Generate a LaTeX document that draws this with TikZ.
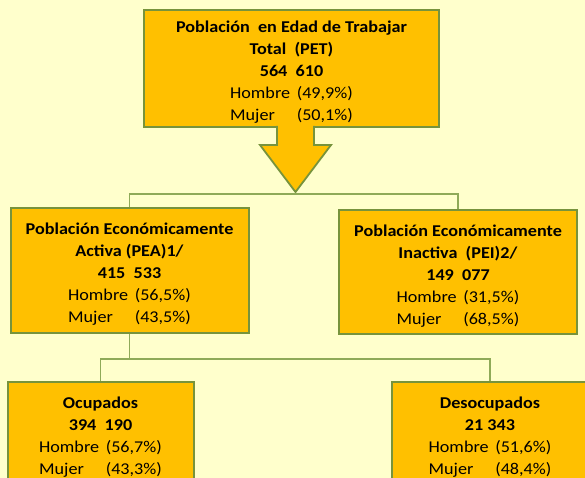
\documentclass[tikz,border=0pt]{standalone}
\usepackage{fontspec}
\setmainfont{Carlito}[FakeStretch=1.1]
\definecolor{bgcol}{HTML}{FFFFCC}
\definecolor{boxcol}{HTML}{FFC000}
\definecolor{bordercol}{HTML}{77933C}
\definecolor{linecol}{HTML}{8FAA58}
\newcommand\HM[2]{\makebox[4.04em][l]{Hombre}(#1\%)\\\makebox[4.04em][l]{Mujer}(#2\%)}
\newcommand\TS{\rule{0pt}{19pt}}
\tikzset{
  box/.style={draw=bordercol, line width=2pt, fill=boxcol, inner sep=0pt, align=center,
    font={\fontsize{16.5}{22}\selectfont}, text=black},
  conn/.style={draw=linecol, line width=1.2pt}
}
\begin{document}
\begin{tikzpicture}[x=1pt,y=-1pt]
\fill[bgcol] (0,0) rectangle (585,478);
\useasboundingbox (0,0) rectangle (585,478);
\begin{scope}
\clip (0,0) rectangle (585,478);
\node[box, minimum width=295pt, minimum height=117pt] (pet) at (291.5,68.5)
  {\TS\textbf{Población \ en Edad de Trabajar}\\\textbf{Total \ (PET)}\\\textbf{564 \ 610}\\\HM{49,9}{50,1}};
\fill[boxcol, draw=bordercol, line width=1.8pt]
  (277,126) -- (277,145) -- (260,145) -- (295.5,192) -- (331,145) -- (314,145) -- (314,126);
\coordinate (bus1) at (0,194);
\coordinate (bus2) at (0,359);
\node[box, minimum width=238pt, minimum height=125pt] (pea) at (129.5,270.5)
  {\TS\textbf{Población Económicamente}\\\textbf{Activa (PEA)1/}\\\textbf{415 \ 533}\\\HM{56,5}{43,5}};
\node[box, minimum width=238pt, minimum height=124pt] (pei) at (458,272)
  {\TS\textbf{Población Económicamente}\\\textbf{Inactiva \ (PEI)2/}\\\textbf{149 \ 077}\\\HM{31,5}{68,5}};
\node[box, minimum width=186pt, minimum height=103pt] (ocu) at (100.5,433.5)
  {\TS\textbf{Ocupados}\\\textbf{394 \ 190}\\\HM{56,7}{43,3}};
\node[box, minimum width=196pt, minimum height=103pt] (des) at (490,433.5)
  {\TS\textbf{Desocupados}\\\textbf{21 343}\\\HM{51,6}{48,4}};
\draw[conn] (pea.north) -- (pea.north |- bus1) -- (pei.north |- bus1) -- (pei.north);
\draw[conn] (pea.south) -- (pea.south |- bus2);
\draw[conn] (ocu.north) -- (ocu.north |- bus2) -- (des.north |- bus2) -- (des.north);
\end{scope}
\end{tikzpicture}
\end{document}
